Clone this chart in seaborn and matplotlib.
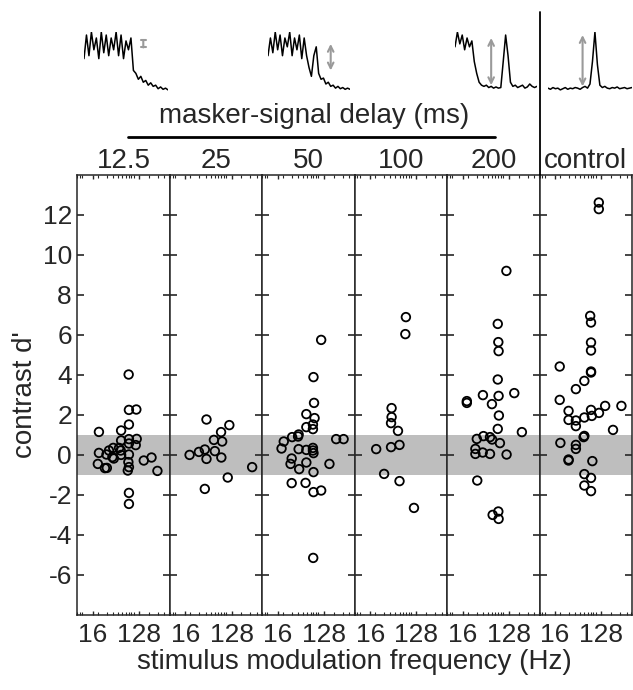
import numpy as np
import pandas as pd
import matplotlib.pyplot as plt
import seaborn as sns
from matplotlib.lines import Line2D
from matplotlib.ticker import FixedLocator, FixedFormatter, LogLocator, NullFormatter

sns.set_style('ticks')
plt.rcParams['font.family'] = ['Liberation Sans', 'DejaVu Sans']
plt.rcParams['axes.unicode_minus'] = False

# panel names (masker-signal delay in ms, plus control)
delays = ['12.5', '25', '50', '100', '200', 'control']

# modulation frequency (Hz) and contrast d' for each panel
freq_125 = [21, 80, 81, 113, 81, 57, 57, 81, 115, 81, 110, 40, 52, 33, 21, 29.5, 56, 81, 38.5,
            79, 20, 81, 30, 158, 224, 77, 292, 27.5, 81, 81, 57, 41]
dp_125 = [1.13, 4.0, 2.23, 2.25, 1.5, 1.2, 0.7, 0.77, 0.78, 0.55, 0.47, 0.33, 0.33, 0.2, 0.08, 0.0, 0.2, 0.0, -0.13,
          -0.38, -0.47, -0.63, -0.67, -0.3, -0.15, -0.8, -0.82, -0.68, -1.92, -2.47, -0.02, -0.2]

freq_25 = [41.5, 116, 80, 58, 84, 19.4, 29.5, 38.5, 41.5, 60.5, 81, 324, 108, 38.5]
dp_25 = [1.75, 1.47, 1.12, 0.73, 0.65, -0.02, 0.13, 0.25, -0.22, 0.17, -0.15, -0.63, -1.15, -1.72]

freq_50 = [113, 80, 82, 58, 84, 78, 58, 78, 41, 40, 30.6, 21, 222, 310, 19, 41, 58, 78, 78, 80,
           30, 28.5, 58, 164, 42, 80, 30, 56, 80, 113, 79]
dp_50 = [5.73, 3.87, 2.58, 2.02, 1.82, 1.5, 1.37, 1.27, 1.0, 0.9, 0.87, 0.65, 0.77, 0.77, 0.3, 0.27, 0.23, 0.33, 0.2, 0.07,
         -0.2, -0.47, -0.4, -0.47, -0.73, -0.88, -1.43, -1.42, -1.88, -1.8, -5.17]

freq_100 = [80, 78, 42, 42, 41, 56, 21, 41, 60, 30, 60, 115]
dp_100 = [6.87, 6.02, 2.32, 1.87, 1.57, 1.18, 0.27, 0.37, 0.48, -0.97, -1.33, -2.67]

freq_200 = [115, 78, 80, 81, 78, 19.4, 19.4, 40, 81, 60, 164, 82, 78, 231, 30.4, 41, 55, 60.5, 86,
            28.5, 28.5, 39.6, 55, 116, 31, 62, 80, 81]
dp_200 = [9.18, 6.53, 5.62, 5.17, 3.75, 2.67, 2.58, 2.97, 2.93, 2.52, 3.07, 1.95, 1.28, 1.12, 0.78, 0.92, 0.87, 0.75, 0.57,
          0.28, 0.03, 0.1, 0.03, 0.0, -1.3, -3.02, -2.85, -3.22]

freq_ctrl = [115, 115, 78, 81, 81, 81, 81, 81, 19.8, 60, 41, 19.8, 29.5, 29.5, 41, 41, 60, 81, 84, 116,
             153, 318, 218, 60, 58, 20.4, 41, 41, 29.5, 29.5, 86, 60, 81, 60, 81]
dp_ctrl = [12.6, 12.27, 6.93, 6.6, 5.6, 5.2, 4.15, 4.1, 4.4, 3.68, 3.27, 2.73, 2.18, 1.73, 1.7, 1.42, 1.85, 2.23, 1.93, 2.08,
           2.43, 2.43, 1.23, 0.93, 0.87, 0.58, 0.48, 0.28, -0.25, -0.3, -0.33, -0.98, -1.17, -1.55, -1.83]

# example response traces shown above the panels (normalised amplitude)
trace_125 = [0.55, 0.95, 0.6, 1.0, 0.7, 0.9, 0.55, 1.0, 0.65, 0.95, 0.6, 0.9, 0.7, 1.0, 0.6, 0.95, 0.55, 0.85,
             0.7, 0.9, 0.35, 0.3, 0.2, 0.25, 0.15, 0.18, 0.1, 0.14, 0.08, 0.1, 0.04, 0.07, 0.03, 0.05, 0.02]
trace_50 = [0.6, 0.9, 0.65, 1.0, 0.7, 0.95, 0.6, 0.9, 0.75, 1.0, 0.6, 0.9, 0.7, 0.95, 0.55, 0.9, 0.6, 0.4,
            0.25, 0.6, 0.75, 0.3, 0.2, 0.22, 0.12, 0.15, 0.08, 0.1, 0.05, 0.08, 0.04, 0.06, 0.03, 0.05, 0.03]
trace_200 = [0.75, 1.0, 0.8, 0.95, 0.7, 0.9, 0.75, 0.85, 0.5, 0.3, 0.15, 0.1, 0.08, 0.1, 0.06, 0.08, 0.05, 0.07,
             0.05, 0.06, 0.5, 0.95, 0.6, 0.15, 0.08, 0.1, 0.06, 0.08, 0.1, 0.05, 0.07, 0.12, 0.08, 0.06, 0.08]
trace_ctrl = [0.05, 0.03, 0.06, 0.04, 0.05, 0.02, 0.04, 0.06, 0.03, 0.05, 0.04, 0.06, 0.05, 0.03, 0.06, 0.08, 0.05,
              0.12, 0.5, 1.0, 0.45, 0.1, 0.06, 0.08, 0.05, 0.04, 0.06, 0.05, 0.07, 0.04, 0.05, 0.06, 0.04, 0.05, 0.06]

freqs = [freq_125, freq_25, freq_50, freq_100, freq_200, freq_ctrl]
dps = [dp_125, dp_25, dp_50, dp_100, dp_200, dp_ctrl]
df = pd.concat([pd.DataFrame({'delay': d, 'freq': f, 'dprime': v}) for d, f, v in zip(delays, freqs, dps)])

FS = 20      # labels and titles
FS_TICK = 19 # tick labels

fig, axes = plt.subplots(1, 6, figsize=(6.33, 6.9), dpi=100, sharey=True)
fig.subplots_adjust(left=0.1224, right=0.9984, top=0.7471, bottom=0.1094, wspace=0)

for ax, name in zip(axes, delays):
    # grey band for |d'| < 1
    ax.axhspan(-1, 1, color='#bebebe', lw=0, zorder=0)
    sns.scatterplot(data=df[df.delay == name], x='freq', y='dprime', ax=ax, marker='o', s=38,
                    facecolors='none', edgecolor='black', linewidth=1.3, zorder=3)
    ax.set_xscale('log')
    ax.set_xlim(8, 512)
    ax.set_ylim(-8, 14)
    ax.xaxis.set_major_locator(FixedLocator([16, 128]))
    ax.xaxis.set_major_formatter(FixedFormatter(['16', '128']))
    ax.xaxis.set_minor_locator(LogLocator(base=10, subs=np.arange(1, 10)))
    ax.xaxis.set_minor_formatter(NullFormatter())
    ax.set_yticks(range(-6, 13, 2))
    ax.tick_params(direction='in', top=True, right=True, which='both', labelsize=FS_TICK)
    ax.tick_params(axis='y', length=5, width=1.2, pad=4)
    ax.tick_params(axis='x', which='major', length=3, width=1, pad=6)
    ax.tick_params(axis='x', which='minor', length=2, width=0.8)
    for sp in ax.spines.values():
        sp.set_linewidth(1.1)
    ax.set_xlabel('')
    ax.set_ylabel('')
    ax.set_title(name, fontsize=FS, pad=5)

axes[0].set_ylabel("contrast d'", fontsize=FS, labelpad=3)
fig.text(0.5604, 0.041, 'stimulus modulation frequency (Hz)', ha='center', va='center', fontsize=FS)

# header: delay label and bar
fig.text(0.496, 0.832, 'masker-signal delay (ms)', ha='center', va='center', fontsize=FS)
fig.add_artist(Line2D([128 / 633, 495 / 633], [0.8014, 0.8014], transform=fig.transFigure, color='black', lw=2))
x_ctrl = axes[5].get_position().x0
fig.add_artist(Line2D([x_ctrl, x_ctrl], [0.7471, 0.983], transform=fig.transFigure, color='black', lw=1.3))

# small example traces with grey arrows
insets = [([0.1327, 0.868, 0.1327, 0.0855], trace_125, 24, 0.74, 0.86, '|-|,widthA=0.2,widthB=0.2'),
          ([0.4234, 0.868, 0.1295, 0.0855], trace_50, 26, 0.35, 0.80, '<->'),
          ([0.7188, 0.868, 0.1295, 0.0855], trace_200, 15, 0.1, 0.9, '<->'),
          ([0.8657, 0.868, 0.1327, 0.0855], trace_ctrl, 14, 0.08, 0.95, '<->')]
for rect, tr, xa, lo, hi, style in insets:
    iax = fig.add_axes(rect)
    sns.lineplot(x=np.arange(len(tr)), y=tr, ax=iax, color='black', lw=1.1)
    iax.annotate('', xy=(xa, hi), xytext=(xa, lo),
                 arrowprops=dict(arrowstyle=style, color='#9a9a9a', lw=1.5, shrinkA=0, shrinkB=0))
    iax.set_xlim(0, len(tr) - 1)
    iax.set_ylim(0, 1)
    iax.axis('off')

plt.savefig('out.png', dpi=100)
